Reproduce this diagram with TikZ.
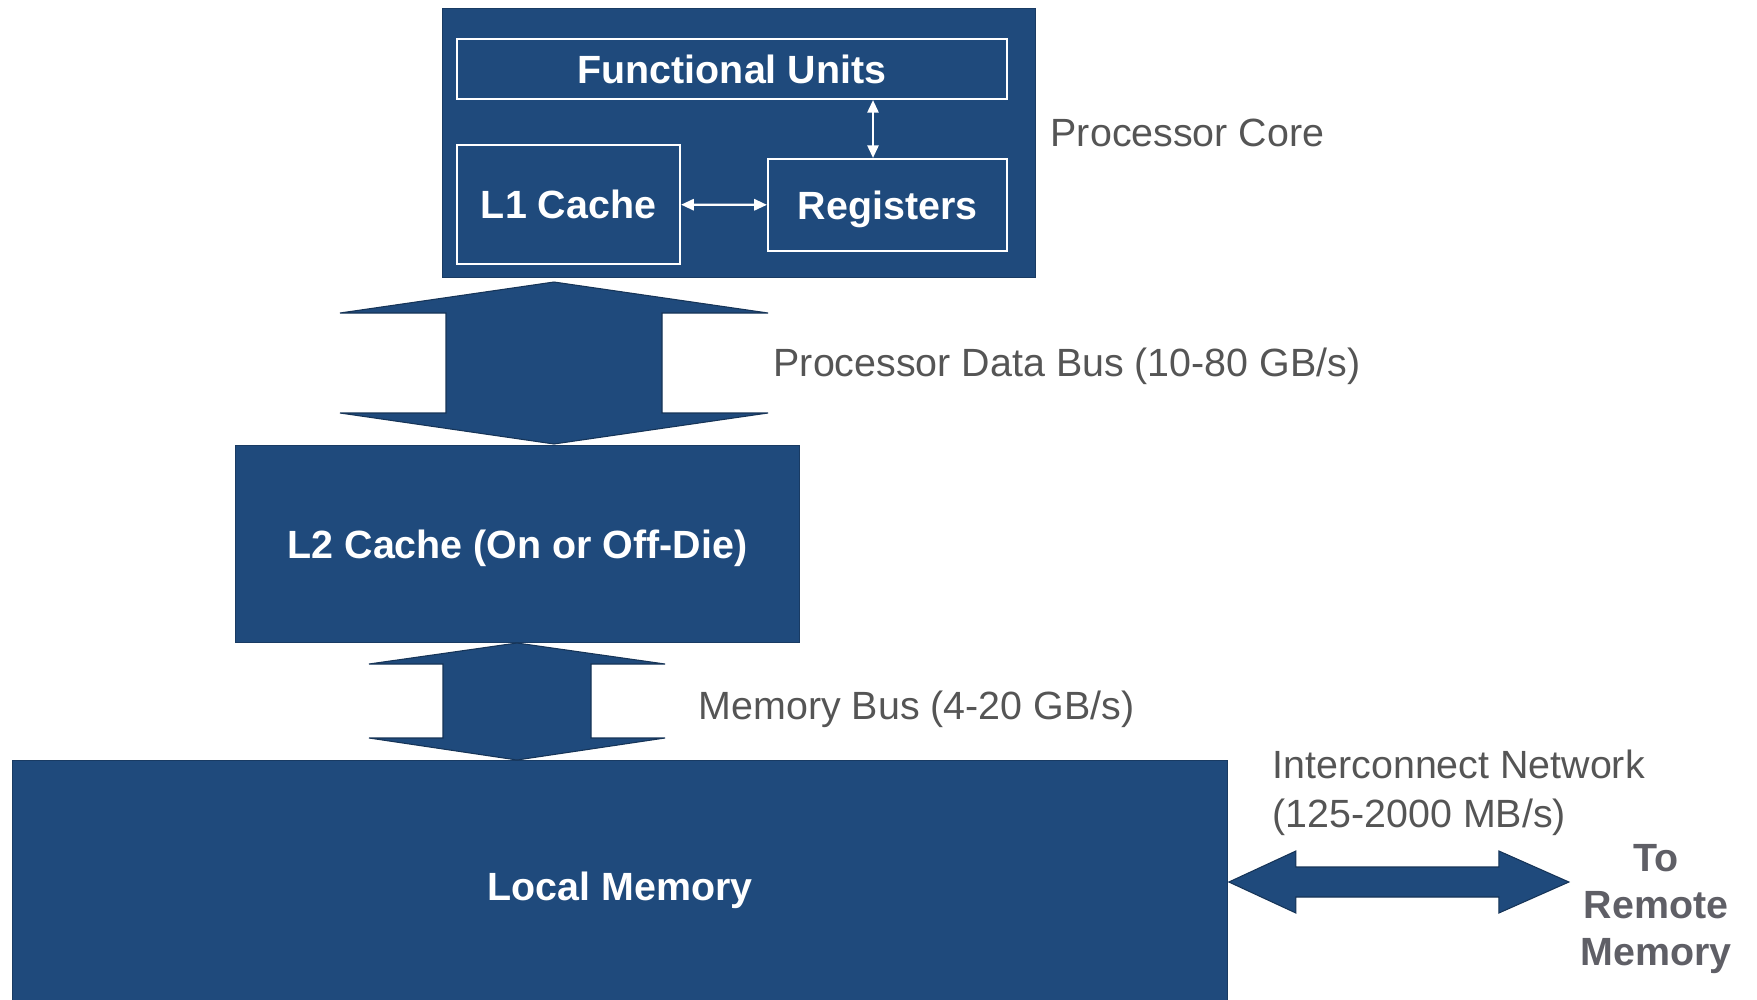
\documentclass[tikz,border=0pt]{standalone}
\usepackage{fontspec}
\setmainfont{Liberation Sans}
\usetikzlibrary{calc,arrows.meta}
\definecolor{boxblue}{RGB}{31,74,124}
\definecolor{labelgray}{RGB}{85,85,85}
\definecolor{remotegray}{RGB}{95,95,102}
\begin{document}
\begin{tikzpicture}[x=0.01cm,y=-0.01cm,
  every node/.style={font=\fontsize{11.2}{13.9}\selectfont},
  blk/.style={fill=boxblue,draw=boxblue!80!black,line width=0.3pt,inner sep=0,text=white,text height=8pt,text depth=0pt,font=\fontsize{11.2}{13.9}\selectfont\bfseries},
  unit/.style={draw=white,line width=0.6pt,fill=boxblue,inner sep=0,text=white,text height=8pt,text depth=0pt,font=\fontsize{11.2}{13.9}\selectfont\bfseries},
  link/.style={draw=white,line width=0.6pt,{Triangle[length=3.6pt,width=3.2pt]}-{Triangle[length=3.6pt,width=3.2pt]}},
  bus/.style={fill=boxblue,draw=boxblue!70!black,line width=0.3pt},
  lbl/.style={text=labelgray,anchor=west,inner sep=0}]
\useasboundingbox (0,0) rectangle (1757,1000);
% processor core
\node[blk,minimum width=5.92cm,minimum height=2.68cm] (core) at (739,143) {};
\node[unit,minimum width=5.5cm,minimum height=0.6cm] (fu) at (732,69) {Functional Units};
\node[unit,minimum width=2.23cm,minimum height=1.19cm] (l1) at (568.5,204.5) {L1 Cache};
\node[unit,minimum width=2.39cm,minimum height=0.92cm] (reg) at (887.5,205) {Registers};
\draw[link] (l1) -- (reg);
\coordinate (fr) at (873,0);
\draw[link] (fr |- fu.south) -- (fr |- reg.north);
\node[lbl,text height=8pt,text depth=0pt] (corelbl) at (1050,132) {Processor Core};
% L2 and memory
\node[blk,minimum width=5.63cm,minimum height=1.96cm] (l2) at (517.5,544) {L2 Cache (On or Off-Die)};
\node[blk,minimum width=12.14cm,minimum height=2.5cm] (mem) at (620,886) {Local Memory};
% processor data bus
\coordinate (b1t) at (554,282);
\coordinate (b1b) at (554,444);
\draw[bus] (b1t) -- ($(b1t)+(214,31)$) -- ($(b1t)+(108,31)$) -- ($(b1b)+(108,-31)$) -- ($(b1b)+(214,-31)$) -- (b1b)
  -- ($(b1b)+(-214,-31)$) -- ($(b1b)+(-108,-31)$) -- ($(b1t)+(-108,31)$) -- ($(b1t)+(-214,31)$) -- cycle;
\node[lbl,text height=8pt,text depth=0pt] (bus1lbl) at (773,362) {Processor Data Bus (10-80 GB/s)};
% memory bus
\coordinate (b2t) at (517,643);
\coordinate (b2b) at (517,760);
\draw[bus] (b2t) -- ($(b2t)+(148,21)$) -- ($(b2t)+(74,21)$) -- ($(b2b)+(74,-22)$) -- ($(b2b)+(148,-22)$) -- (b2b)
  -- ($(b2b)+(-148,-22)$) -- ($(b2b)+(-74,-22)$) -- ($(b2t)+(-74,21)$) -- ($(b2t)+(-148,21)$) -- cycle;
\node[lbl,text height=8pt,text depth=0pt] (bus2lbl) at (698,705) {Memory Bus (4-20 GB/s)};
% interconnect
\coordinate (netl) at ($(mem.east)+(1,-4)$);
\coordinate (netr) at ($(netl)+(340,0)$);
\draw[bus] (netl) -- ($(netl)+(67,-31)$) -- ($(netl)+(67,-15)$) -- ($(netr)+(-70,-15)$) -- ($(netr)+(-70,-31)$) -- (netr)
  -- ($(netr)+(-70,31)$) -- ($(netr)+(-70,15)$) -- ($(netl)+(67,15)$) -- ($(netl)+(67,31)$) -- cycle;
\node[lbl,align=left] (netlbl) at (1272,793) {Interconnect Network\\(125-2000 MB/s)};
\node[text=remotegray,font=\fontsize{11.2}{13.4}\selectfont\bfseries,align=center,inner sep=0] (remote) at (1656,909) {To\\Remote\\Memory};
\end{tikzpicture}
\end{document}
